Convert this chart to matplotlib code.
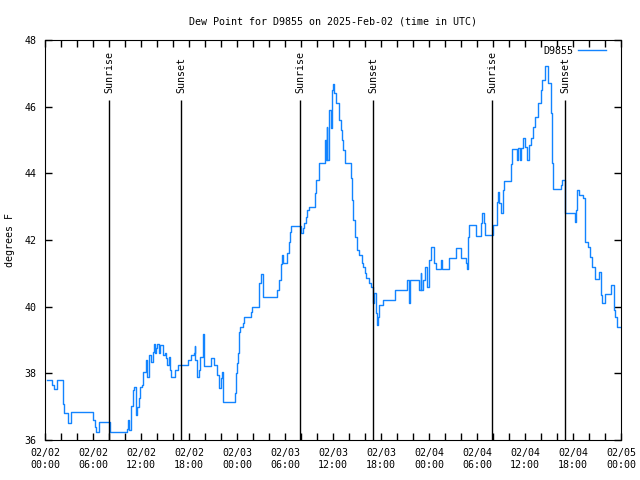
import matplotlib
matplotlib.use('Agg')
import matplotlib.pyplot as plt

# Hours since 02/02 00:00 UTC and dew point (F), value holds until next time
hours = [0.25, 0.9, 1.16, 1.46, 2.2, 2.4, 2.9, 3.2, 5.96, 6.2, 6.4, 6.8, 8.1,
         10.2, 10.35, 10.5, 10.7, 10.8, 11.0, 11.15, 11.4, 11.5, 11.7, 11.9, 12.1,
         12.3, 12.6, 12.8, 12.95, 13.0, 13.25, 13.5, 13.6, 13.8, 13.9, 14.0, 14.3,
         14.4, 14.7, 15.0, 15.15, 15.3, 15.45, 15.6, 15.7, 16.2, 16.6, 17.9, 18.3,
         18.6, 18.7, 18.8, 19.0, 19.2, 19.4, 19.7, 19.9, 20.7, 21.1, 21.5, 21.7,
         21.8, 21.95, 22.1, 22.2, 22.3, 23.7, 23.9, 24.0, 24.1, 24.2, 24.3, 24.4,
         24.7, 24.9, 25.7, 25.9, 26.7, 26.8, 27.0, 27.2, 29.0, 29.2, 29.5, 29.6,
         29.8, 30.3, 30.5, 30.6, 30.8, 32.0, 32.2, 32.4, 32.6, 32.8, 33.0, 33.7,
         33.9, 34.2, 35.0, 35.1, 35.2, 35.3, 35.5, 35.7, 35.83, 35.96, 36.17,
         36.375, 36.75, 36.96, 37.125, 37.29, 37.54, 38.21, 38.33, 38.54, 38.71,
         38.96, 39.29, 39.6, 39.79, 39.96, 40.125, 40.46, 40.71, 40.96, 41.125,
         41.375, 41.46, 41.625, 41.79, 42.2, 43.75, 45.2, 45.46, 45.625, 46.79,
         46.96, 47.04, 47.3, 47.5, 47.7, 48.0, 48.25, 48.67, 48.83, 49.5, 49.67,
         50.5, 51.33, 52.0, 52.58, 52.79, 52.92, 53.04, 53.83, 54.5, 54.58, 54.83,
         55.0, 55.96, 56.46, 56.58, 56.75, 57.0, 57.2, 57.33, 58.25, 58.42, 59.0,
         59.17, 59.375, 59.5, 59.7, 60.0, 60.2, 60.55, 60.8, 61.04, 61.25, 61.67,
         61.96, 62.17, 62.46, 62.92, 63.2, 63.375, 63.54, 64.46, 64.58, 64.96,
         65.04, 66.25, 66.375, 66.54, 66.79, 67.29, 67.54, 67.875, 68.125, 68.375,
         68.7, 69.29, 69.46, 69.625, 70.04, 70.71, 71.125, 71.29, 71.46, 71.9]
dewpt = [37.8, 37.65, 37.52, 37.8, 37.08, 36.8, 36.52, 36.83, 36.6, 36.4, 36.23, 36.53, 36.23,
         36.33, 36.6, 36.3, 36.55, 37.02, 37.5, 37.58, 36.75, 37.0, 37.26, 37.58, 37.65,
         38.05, 38.4, 37.9, 38.4, 38.55, 38.35, 38.65, 38.88, 38.6, 38.75, 38.88, 38.6,
         38.85, 38.55, 38.6, 38.45, 38.25, 38.5, 38.1, 37.9, 38.1, 38.25, 38.4, 38.55,
         38.6, 38.82, 38.4, 37.9, 38.1, 38.5, 39.18, 38.22, 38.45, 38.25, 37.95, 37.75,
         37.55, 37.85, 38.05, 37.7, 37.14, 37.4, 38.0, 38.3, 38.6, 38.9, 39.25, 39.4,
         39.5, 39.68, 39.85, 40.0, 40.2, 40.7, 40.98, 40.3, 40.5, 40.8, 41.27, 41.55,
         41.3, 41.6, 41.95, 42.25, 42.43, 42.2, 42.35, 42.5, 42.7, 42.9, 43.0, 43.4,
         43.8, 44.3, 45.0, 44.4, 45.4, 44.4, 45.9, 45.35, 46.5, 46.67, 46.4,
         46.1, 45.6, 45.3, 45.0, 44.7, 44.3, 43.85, 43.2, 42.6, 42.1,
         41.7, 41.55, 41.3, 41.2, 41.0, 40.85, 40.7, 40.6, 40.1, 40.4,
         39.8, 39.45, 39.7, 40.05, 40.2, 40.5, 40.8, 40.1, 40.8, 40.5,
         41.0, 40.5, 40.8, 41.2, 40.6, 41.4, 41.78, 41.3, 41.13, 41.4, 41.13,
         41.45, 41.75, 41.45, 41.3, 41.13, 42.1, 42.45, 42.12, 42.5, 42.8, 42.5,
         42.15, 42.45, 43.15, 43.45, 43.1, 42.8, 43.5, 43.77, 44.28, 44.72, 44.4,
         44.75, 44.4, 44.75, 45.05, 44.8, 44.4, 44.85, 45.05, 45.4, 45.7, 46.1,
         46.5, 46.8, 47.22, 46.7, 45.8, 44.3, 43.52, 43.65, 43.8, 43.1,
         42.82, 42.55, 42.9, 43.5, 43.35, 43.25, 41.95, 41.8, 41.5, 41.2,
         40.82, 41.05, 40.35, 40.1, 40.37, 40.65, 39.9, 39.7, 39.4, 39.4]

sun_times = [8.0, 17.0, 31.9, 41.0, 55.9, 65.0]
sun_labels = ['Sunrise', 'Sunset', 'Sunrise', 'Sunset', 'Sunrise', 'Sunset']

tick_hours = [0, 6, 12, 18, 24, 30, 36, 42, 48, 54, 60, 66, 72]
tick_labels = ['02/02\n00:00', '02/02\n06:00', '02/02\n12:00', '02/02\n18:00',
               '02/03\n00:00', '02/03\n06:00', '02/03\n12:00', '02/03\n18:00',
               '02/04\n00:00', '02/04\n06:00', '02/04\n12:00', '02/04\n18:00',
               '02/05\n00:00']

fs = 7.2
plt.rcParams['font.family'] = 'DejaVu Sans Mono'
plt.rcParams['font.size'] = fs

fig = plt.figure(figsize=(6.4, 4.8), dpi=100)
ax = fig.add_axes([45 / 640, 40 / 480, 576 / 640, 400 / 480])

ax.plot(hours, dewpt, drawstyle='steps-post', color='#1284ff', lw=1, label='D9855')

ax.vlines(sun_times, 36, 46.2, color='black', lw=1)
for t, s in zip(sun_times, sun_labels):
    ax.text(t, 46.42, s, rotation=90, ha='center', va='bottom', fontsize=fs)

ax.set_xlim(0, 72)
ax.set_ylim(36, 48)
ax.set_xticks(tick_hours)
ax.set_xticklabels(tick_labels)
ax.set_xticks(range(0, 73, 2), minor=True)
ax.set_yticks(range(36, 49, 2))
ax.tick_params(which='both', direction='in', top=True, right=True, length=5, width=1)
ax.tick_params(axis='x', pad=6)
ax.tick_params(axis='y', pad=6)

ax.set_title('Dew Point for D9855 on 2025-Feb-02 (time in UTC)', fontsize=fs, pad=11)
ax.set_ylabel('degrees F', fontsize=fs, labelpad=7)
ax.legend(loc='upper right', bbox_to_anchor=(1 - 9 / 576, 1), frameon=False,
          markerfirst=False, handlelength=2.8, handletextpad=0.5, fontsize=fs,
          borderaxespad=0.2)

fig.savefig('out.png', dpi=100)
